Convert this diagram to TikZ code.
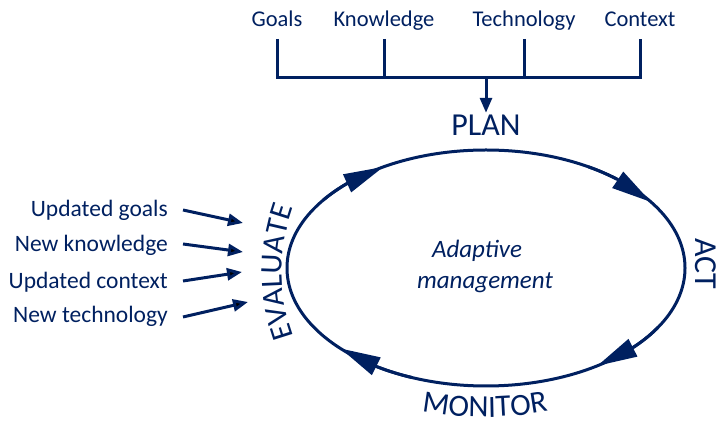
\documentclass[tikz,border=0pt]{standalone}
\usepackage{fontspec}
\setmainfont{Carlito}
\usetikzlibrary{arrows.meta, bending, decorations.text}
\definecolor{navy}{RGB}{0,32,96}
\newcommand{\stagefont}{\fontsize{31}{31}\selectfont}
\tikzset{
  x=1pt, y=1pt,
  every node/.style={text=navy, inner sep=0pt},
  input/.style={font=\fontsize{22.5}{27}\selectfont, anchor=base},
  feedback/.style={font=\fontsize{23.5}{27}\selectfont, anchor=base east},
  stage/.style={font=\fontsize{32}{32}\selectfont, anchor=base},
  bracket/.style={draw=navy, line width=3pt},
  feed/.style={draw=navy, line width=3pt, -{Triangle[length=15pt,width=12pt]}},
  turn/.style={draw=navy, line width=3pt, -{Triangle[length=40pt,width=19pt]}},
  bent text/.style={decorate, decoration={text along path, text align=center,
    text color=navy, text={|\stagefont|#1}}},
}

\begin{document}
\begin{tikzpicture}
  \useasboundingbox (0,0) rectangle (720,425);

  % what goes into the plan
  \node[input] (goals)      at (277,398) {Goals};
  \node[input] (knowledge)  at (384,398) {Knowledge};
  \node[input] (technology) at (524,398) {Technology};
  \node[input] (context)    at (640,398) {Context};
  \coordinate (bar) at (0,347);

  \draw[bracket] ([yshift=-12pt]goals.base) -- (goals |- bar) -- (context |- bar)
                 -- ([yshift=-12pt]context.base);
  \draw[bracket] ([yshift=-12pt]knowledge.base) -- (knowledge |- bar);
  \draw[bracket] ([yshift=-12pt]technology.base) -- (technology |- bar);

  \node[stage] (plan) at (486,289) {PLAN};
  \node[stage, rotate=-90] (act) at (695,161) {ACT};
  \draw[feed] (plan |- bar) -- ([yshift=2.5pt]plan.north);

  % the cycle
  \coordinate (c) at (486,157);
  \draw[navy, line width=3pt] (c) ellipse [x radius=199pt, y radius=118pt];
  \draw[turn] (c) ++(145:199pt and 118pt) arc[start angle=145, end angle=121, x radius=199pt, y radius=118pt];
  \draw[turn] (c) ++(59:199pt and 118pt)  arc[start angle=59,  end angle=34,  x radius=199pt, y radius=118pt];
  \draw[turn] (c) ++(-30:199pt and 118pt) arc[start angle=-30, end angle=-56, x radius=199pt, y radius=118pt];
  \draw[turn] (c) ++(-112:199pt and 118pt) arc[start angle=-112, end angle=-137, x radius=199pt, y radius=118pt];

  \path[bent text=EVALUATE] (472,153) ++(215:190pt) arc[start angle=215, end angle=145, radius=190pt];
  \path[bent text=MONITOR] (485,358) ++(255:350pt) arc[start angle=255, end angle=285, radius=350pt];

  \node[font=\fontsize{25}{31}\selectfont\itshape, anchor=base] (adapt) at (477,167) {Adaptive};
  \node[font=\fontsize{25}{31}\selectfont\itshape, anchor=base] (mgmt)  at (485,136) {management};

  % what comes back from evaluation
  \node[feedback] (upgoals)   at (168,208) {Updated goals};
  \node[feedback] (newknow)   at (168,173) {New knowledge};
  \node[feedback] (upcontext) at (168,136) {Updated context};
  \node[feedback] (newtech)   at (168,102) {New technology};
  \coordinate (e1) at (243,202);
  \coordinate (e2) at (243,173);
  \coordinate (e3) at (242,153);
  \coordinate (e4) at (248,123);
  \draw[feed] ([shift={(15pt,7pt)}]upgoals.base east)   -- (e1);
  \draw[feed] ([shift={(15pt,8pt)}]newknow.base east)   -- (e2);
  \draw[feed] ([shift={(15pt,8pt)}]upcontext.base east) -- (e3);
  \draw[feed] ([shift={(15pt,6pt)}]newtech.base east)   -- (e4);
\end{tikzpicture}
\end{document}
